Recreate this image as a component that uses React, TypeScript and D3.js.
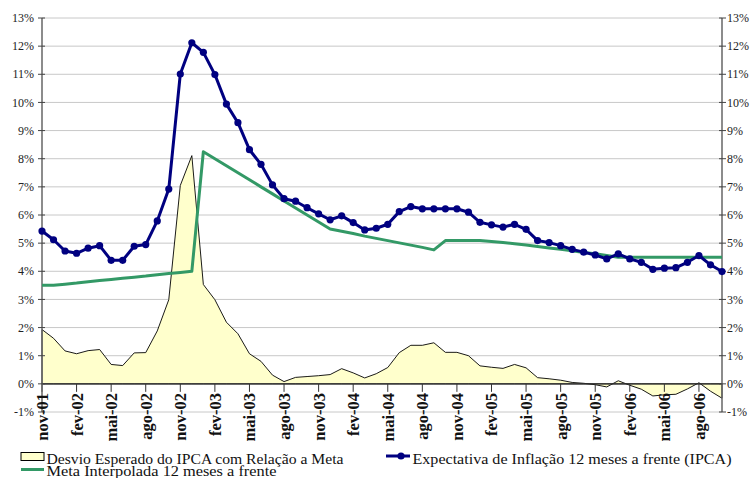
import React from "react";
import * as d3 from "d3";

const months: string[] = [
  "nov-01","dez-01","jan-02","fev-02","mar-02","abr-02","mai-02","jun-02","jul-02","ago-02","set-02","out-02",
  "nov-02","dez-02","jan-03","fev-03","mar-03","abr-03","mai-03","jun-03","jul-03","ago-03","set-03","out-03",
  "nov-03","dez-03","jan-04","fev-04","mar-04","abr-04","mai-04","jun-04","jul-04","ago-04","set-04","out-04",
  "nov-04","dez-04","jan-05","fev-05","mar-05","abr-05","mai-05","jun-05","jul-05","ago-05","set-05","out-05",
  "nov-05","dez-05","jan-06","fev-06","mar-06","abr-06","mai-06","jun-06","jul-06","ago-06","set-06","out-06",
];

const tickLabels: string[] = [
  "nov-01","fev-02","mai-02","ago-02","nov-02","fev-03","mai-03","ago-03","nov-03","fev-04",
  "mai-04","ago-04","nov-04","fev-05","mai-05","ago-05","nov-05","fev-06","mai-06","ago-06",
];

// Expectativa de Inflação 12 meses a frente (IPCA), %
const expectativa: number[] = [
  5.43, 5.12, 4.72, 4.64, 4.82, 4.91, 4.39, 4.39, 4.89, 4.95, 5.79, 6.92,
  11.01, 12.12, 11.78, 10.99, 9.94, 9.28, 8.32, 7.80, 7.07, 6.58, 6.49, 6.26,
  6.04, 5.83, 5.97, 5.73, 5.47, 5.53, 5.67, 6.12, 6.30, 6.22, 6.22, 6.22,
  6.22, 6.10, 5.74, 5.65, 5.57, 5.67, 5.49, 5.09, 5.02, 4.91, 4.78, 4.68,
  4.58, 4.44, 4.62, 4.44, 4.32, 4.07, 4.11, 4.13, 4.32, 4.56, 4.23, 3.99,
];

// Meta Interpolada 12 meses a frente, %
const meta: number[] = [
  3.50, 3.50, 3.54, 3.58, 3.63, 3.67, 3.71, 3.75, 3.79, 3.83, 3.88, 3.92,
  3.96, 4.00, 8.25, 8.00, 7.75, 7.50, 7.25, 7.00, 6.75, 6.50, 6.25, 6.00,
  5.75, 5.50, 5.42, 5.34, 5.25, 5.17, 5.09, 5.01, 4.93, 4.85, 4.76, 5.09,
  5.09, 5.09, 5.09, 5.06, 5.02, 4.98, 4.93, 4.88, 4.83, 4.78, 4.73, 4.67,
  4.62, 4.56, 4.50, 4.50, 4.50, 4.50, 4.50, 4.50, 4.50, 4.50, 4.50, 4.50,
];

// Desvio Esperado do IPCA com Relação a Meta, p.p.
const desvio: number[] = [
  1.93, 1.62, 1.17, 1.07, 1.18, 1.22, 0.69, 0.65, 1.10, 1.11, 1.88, 2.99,
  7.05, 8.11, 3.53, 2.99, 2.19, 1.78, 1.07, 0.80, 0.31, 0.08, 0.23, 0.26,
  0.29, 0.33, 0.54, 0.39, 0.21, 0.36, 0.58, 1.11, 1.37, 1.37, 1.46, 1.12,
  1.12, 1.00, 0.64, 0.59, 0.55, 0.69, 0.57, 0.22, 0.18, 0.13, 0.05, 0.02,
  -0.03, -0.11, 0.11, -0.05, -0.19, -0.43, -0.39, -0.37, -0.18, 0.04, -0.26, -0.51,
];

const yTicks: number[] = [-1, 0, 1, 2, 3, 4, 5, 6, 7, 8, 9, 10, 11, 12, 13];

const legendDesvio = "Desvio Esperado do IPCA com Relação a Meta";
const legendExpect = "Expectativa de Inflação 12 meses a frente (IPCA)";
const legendMeta = "Meta Interpolada 12 meses a frente";

const W = 750;
const H = 478;
const L = 42;
const R = 722;
const T = 18;
const B = 412;

const BLUE = "#000080";
const GREEN = "#339966";
const FONT = "'Liberation Serif', 'DejaVu Serif', serif";

export default function App() {
  const x = d3.scaleLinear().domain([0, months.length - 1]).range([L, R]);
  const y = d3.scaleLinear().domain([-1, 13]).range([B, T]);

  const area = d3
    .area<number>()
    .x((_, i) => x(i))
    .y0(y(0))
    .y1((d) => y(d));
  const line = d3
    .line<number>()
    .x((_, i) => x(i))
    .y((d) => y(d));

  const zeroY = y(0);

  return (
    <svg
      width={W}
      height={H}
      style={{ position: "absolute", left: 0, top: 0, background: "#fff" }}
      fontFamily={FONT}
    >
      <rect x={0} y={0} width={W} height={H} fill="#fff" />
      {/* gridlines */}
      {yTicks.map((t) => (
        <line key={"g" + t} x1={L} x2={R} y1={y(t)} y2={y(t)} stroke="#c8c8c8" strokeWidth={1} />
      ))}
      {/* area */}
      <path d={area(desvio) || ""} fill="#FFFFCC" stroke="#000" strokeWidth={0.9} />
      {/* zero axis */}
      <line x1={L} x2={R} y1={zeroY} y2={zeroY} stroke="#333" strokeWidth={1.2} />
      {months.map((m, i) =>
        tickLabels.includes(m) ? (
          <line key={"xt" + i} x1={x(i)} x2={x(i)} y1={zeroY} y2={zeroY + 8} stroke="#333" strokeWidth={1} />
        ) : null
      )}
      {/* left / right axes */}
      <line x1={L} x2={L} y1={T} y2={B} stroke="#666" strokeWidth={1.5} />
      <line x1={R} x2={R} y1={T} y2={B} stroke="#666" strokeWidth={1.5} />
      {yTicks.map((t) => (
        <g key={"yt" + t}>
          <line x1={L - 4} x2={L + 3} y1={y(t)} y2={y(t)} stroke="#444" strokeWidth={1} />
          <line x1={R - 3} x2={R + 4} y1={y(t)} y2={y(t)} stroke="#444" strokeWidth={1} />
          <text x={L - 8} y={y(t)} dy="0.35em" textAnchor="end" fontSize={12} fill="#222">
            {t + "%"}
          </text>
          <text x={R + 5} y={y(t)} dy="0.35em" textAnchor="start" fontSize={12} fill="#222">
            {t + "%"}
          </text>
        </g>
      ))}
      {/* x labels */}
      {months.map((m, i) =>
        tickLabels.includes(m) ? (
          <text
            key={"xl" + i}
            transform={`translate(${x(i)},${393}) rotate(-90)`}
            textAnchor="end"
            dy="0.36em"
            fontSize={16.5}
            fontWeight="bold"
            fill="#111"
          >
            {m}
          </text>
        ) : null
      )}
      {/* meta line */}
      <path d={line(meta) || ""} fill="none" stroke={GREEN} strokeWidth={3} strokeLinejoin="round" />
      {/* expectativa line */}
      <path d={line(expectativa) || ""} fill="none" stroke={BLUE} strokeWidth={3} strokeLinejoin="round" />
      {expectativa.map((v, i) => (
        <circle key={"c" + i} cx={x(i)} cy={y(v)} r={3.6} fill={BLUE} />
      ))}
      {/* legend */}
      <rect x={21} y={452.5} width={23} height={8} fill="#FFFFCC" stroke="#000" strokeWidth={1} />
      <text x={46.5} y={463.5} fontSize={14.5} textLength={297} lengthAdjust="spacingAndGlyphs" fill="#111">
        {legendDesvio}
      </text>
      <line x1={21} x2={44} y1={469.5} y2={469.5} stroke={GREEN} strokeWidth={3} />
      <text x={46.5} y={475.5} fontSize={14.5} textLength={230} lengthAdjust="spacingAndGlyphs" fill="#111">
        {legendMeta}
      </text>
      <line x1={386} x2={410} y1={456} y2={456} stroke={BLUE} strokeWidth={3} />
      <circle cx={401} cy={456} r={3.6} fill={BLUE} />
      <text x={412.5} y={463.5} fontSize={14.5} textLength={319} lengthAdjust="spacingAndGlyphs" fill="#111">
        {legendExpect}
      </text>
    </svg>
  );
}
